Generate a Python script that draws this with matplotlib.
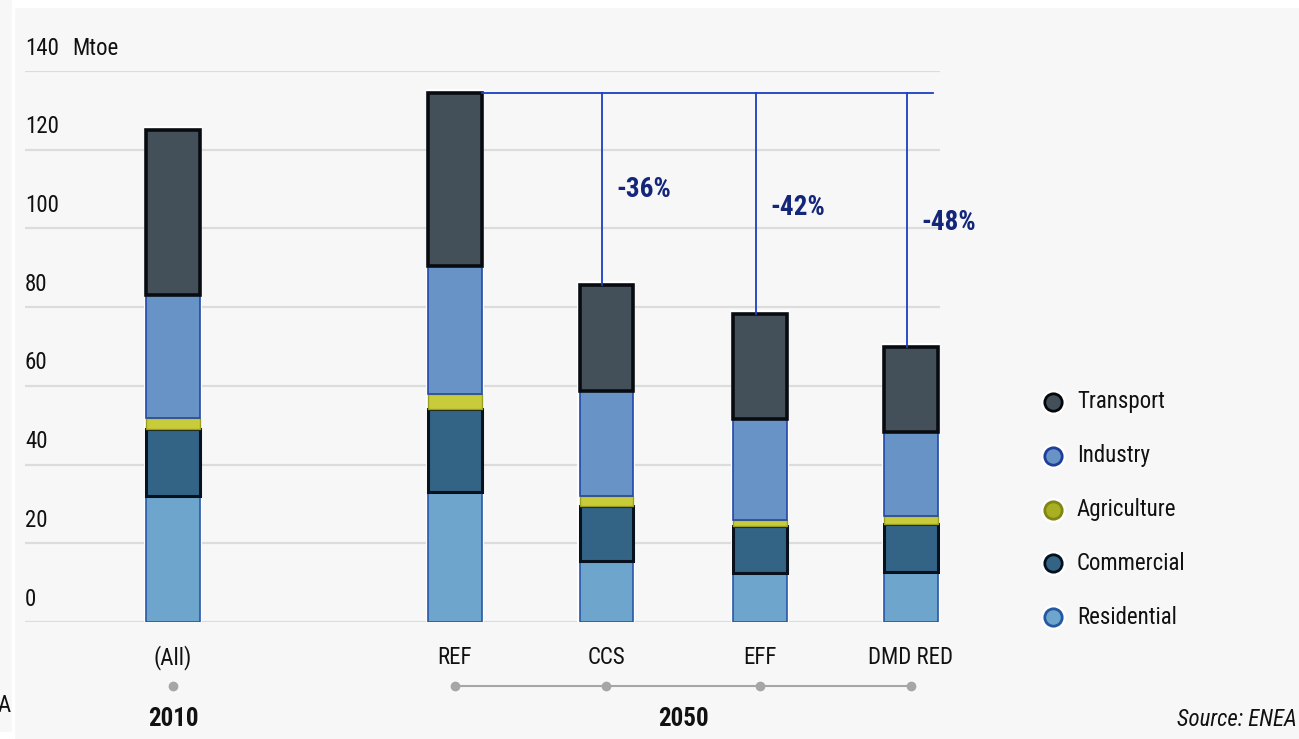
from __future__ import annotations

import matplotlib

matplotlib.use("Agg")
import matplotlib.pyplot as plt
from matplotlib import font_manager
from matplotlib.lines import Line2D
from matplotlib.patches import Rectangle


# ----- Data (Mtoe) -----
scenarios = ["(All)", "REF", "CCS", "EFF", "DMD RED"]
years = ["2010", "2050"]

residential = [32.0, 33.0, 15.5, 12.4, 12.6]
commercial = [17.0, 21.0, 14.0, 11.9, 12.3]
agriculture = [2.8, 4.0, 2.4, 1.7, 2.1]
industry = [31.2, 32.5, 26.7, 25.6, 21.4]
transport = [42.0, 44.0, 27.0, 26.7, 21.6]

y_ticks = [0, 20, 40, 60, 80, 100, 120, 140]

# ----- Styling -----
BG = "#f7f7f7"
SECTORS = [
    # name, values, face, edge, edge width
    ("Residential", residential, "#6ea5cc", "#2a56a8", 1.2),
    ("Commercial", commercial, "#336485", "#08121f", 2.2),
    ("Agriculture", agriculture, "#c9cc3a", "#9a9f1e", 1.0),
    ("Industry", industry, "#6893c6", "#2448a8", 1.2),
    ("Transport", transport, "#434f59", "#080c10", 2.6),
]
LEGEND_MARKERS = {
    "Transport": ("#434f59", "#05080b"),
    "Industry": ("#6893c6", "#1d3f9a"),
    "Agriculture": ("#a8b022", "#7f8614"),
    "Commercial": ("#336485", "#05101e"),
    "Residential": ("#6ea5cc", "#2458a0"),
}

# x positions: a wide gap separates 2010 from the 2050 scenarios
x_pos = [0.0, 1.855, 2.85, 3.862, 4.855]
BAR_W = 0.35
W, H = 1299, 739


def pick_font() -> tuple[str, str]:
    """Use a narrow / condensed sans face when one is installed."""
    entries = font_manager.fontManager.ttflist
    names = {e.name for e in entries}
    for fam in ["Liberation Sans Narrow", "Roboto Condensed",
                "Open Sans Condensed", "Noto Sans Condensed"]:
        if fam in names:
            return fam, "normal"
    for fam in ["DejaVu Sans", "Roboto", "Noto Sans", "Open Sans"]:
        for e in entries:
            if e.name == fam and str(e.stretch) in ("condensed",
                                                     "semi-condensed"):
                return fam, str(e.stretch)
    return "Roboto", "normal"


FONT, STRETCH = pick_font()
TXT = dict(family=FONT, fontstretch=STRETCH, color="#111111")


def fx(px: float) -> float:
    return px / W


def fy(py: float) -> float:
    return 1 - py / H


def main() -> None:
    fig = plt.figure(figsize=(W / 100, H / 100), dpi=100, facecolor=BG)

    # thin white frame pieces around the panel
    fig.add_artist(Rectangle((fx(14), fy(7)), 1, 1, transform=fig.transFigure,
                             color="white", zorder=0))
    fig.add_artist(Rectangle((fx(12), 0), fx(2), 1, transform=fig.transFigure,
                             color="white", zorder=0))
    fig.add_artist(Rectangle((0, 0), fx(12), fy(732), transform=fig.transFigure,
                             color="white", zorder=0))

    ax = fig.add_axes([fx(25), fy(622), fx(940) - fx(25), fy(71) - fy(622)])
    ax.set_facecolor("none")
    ax.set_xlim(-0.974, 5.046)
    ax.set_ylim(0, 140)
    for s in ax.spines.values():
        s.set_visible(False)
    ax.set_xticks([])
    ax.set_yticks([])

    # gridlines + labels sitting above each line
    for v in y_ticks:
        ax.axhline(v, color="#dcdcdc", lw=1.6, zorder=1)
        ax.annotate(str(v), (0, v), xycoords=ax.get_yaxis_transform(),
                    xytext=(0, 16.5), textcoords="offset points",
                    ha="left", va="center", fontsize=16.5, **TXT)
    ax.annotate("Mtoe", (0, y_ticks[-1]), xycoords=ax.get_yaxis_transform(),
                xytext=(34, 16.5), textcoords="offset points",
                ha="left", va="center", fontsize=16.5, **TXT)

    # white halo behind each stack
    totals = [sum(v) for v in zip(*[s[1] for s in SECTORS])]
    ax.bar(x_pos, [t + 1.0 for t in totals], width=BAR_W + 0.035,
           color="white", zorder=2)

    bottoms = [0.0] * len(scenarios)
    for name, vals, face, edge, lw in SECTORS:
        ax.bar(x_pos, vals, bottom=bottoms, width=BAR_W, color=face,
               edgecolor=edge, linewidth=lw, zorder=3, label=name)
        bottoms = [b + v for b, v in zip(bottoms, vals)]

    # reduction vs REF
    ref_total = totals[1]
    line_col = "#1b3fc4"
    ax.plot([x_pos[1] + BAR_W / 2, 5.0], [ref_total, ref_total],
            color=line_col, lw=1.3, zorder=4)
    label_y = [110.0, 105.3, 101.5]
    for i, ly in zip(range(2, 5), label_y):
        xl = x_pos[i] - 0.025
        ax.plot([xl, xl], [ref_total, totals[i]], color=line_col, lw=1.3,
                zorder=4)
        pct = round((totals[i] / ref_total - 1) * 100)
        ax.text(xl + 0.095, ly, f"{pct}%", ha="left", va="center",
                fontsize=19.5, fontweight="bold", family=FONT,
                fontstretch=STRETCH, color="#14267a", zorder=5)

    # category axis below the plot
    xt = ax.get_xaxis_transform()
    for x, lab in zip(x_pos, scenarios):
        ax.text(x, -0.0653, lab, transform=xt, ha="center", va="center",
                fontsize=16.5, clip_on=False, **TXT)
    ax.plot(x_pos[1:], [-0.116] * 4, transform=xt, color="#a6a6a6", lw=1.5,
            clip_on=False)
    ax.plot(x_pos, [-0.116] * 5, transform=xt, ls="none", marker="o",
            markersize=6, color="#a6a6a6", clip_on=False)
    year_x = [x_pos[0], (x_pos[1] + x_pos[-1]) / 2]
    for x, yr in zip(year_x, years):
        ax.text(x, -0.176, yr, transform=xt, ha="center", va="center",
                fontsize=18, fontweight="bold", clip_on=False, **TXT)

    # legend, drawn top to bottom
    legend_order = ["Transport", "Industry", "Agriculture", "Commercial",
                    "Residential"]
    for k, name in enumerate(legend_order):
        py = 402 + k * 53.8
        face, edge = LEGEND_MARKERS[name]
        fig.add_artist(Line2D([fx(1053)], [fy(py)], transform=fig.transFigure,
                              marker="o", markersize=17, markerfacecolor="white",
                              markeredgecolor="white", ls="none"))
        fig.add_artist(Line2D([fx(1053)], [fy(py)], transform=fig.transFigure,
                              marker="o", markersize=12.5, markerfacecolor=face,
                              markeredgecolor=edge, markeredgewidth=2,
                              ls="none"))
        fig.text(fx(1077), fy(py), name, ha="left", va="center", fontsize=16.5,
                 **TXT)

    fig.text(fx(1297), fy(719), "Source: ENEA", ha="right", va="center",
             fontsize=16.5, style="italic", **TXT)
    fig.text(fx(-2), fy(705), "A", ha="left", va="center", fontsize=16.5, **TXT)

    fig.savefig("out.png", dpi=100, facecolor=BG)
    plt.close(fig)


if __name__ == "__main__":
    main()
